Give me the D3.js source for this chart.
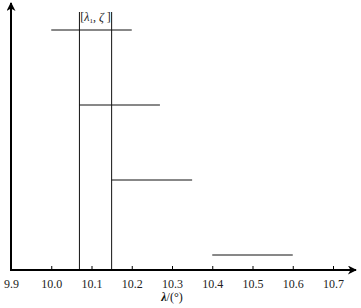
<!DOCTYPE html>
<html>
<head>
<meta charset="utf-8">
<script src="https://cdn.jsdelivr.net/npm/d3@7"></script>
<style>
  body { margin: 0; background: #fff; }
  svg { display: block; font-family: "Liberation Serif", "DejaVu Serif", serif; }
</style>
</head>
<body>
<svg id="chart"></svg>
<script>
const width = 361;
const height = 308;

// intervals drawn as horizontal segments
const starts = [10.0, 10.07, 10.15, 10.4];
const ends = [10.2, 10.27, 10.35, 10.6];
const levels = [3.2, 2.2, 1.2, 0.2];
// boundaries of [lambda1, zeta]
const bounds = [10.07, 10.15];
const tickValues = [9.9, 10.0, 10.1, 10.2, 10.3, 10.4, 10.5, 10.6, 10.7];

const svg = d3.select("#chart").attr("width", width).attr("height", height);

const x = d3.scaleLinear().domain([9.9, 10.7]).range([11, 333]);
const y = d3.scaleLinear().domain([0, 1]).range([270, 195]);

const defs = svg.append("defs");
defs.append("marker")
  .attr("id", "arrow")
  .attr("viewBox", "0 0 10 10")
  .attr("refX", 9).attr("refY", 5)
  .attr("markerWidth", 11).attr("markerHeight", 9)
  .attr("markerUnits", "userSpaceOnUse")
  .attr("orient", "auto")
  .append("path")
  .attr("d", "M0,0 L10,5 L0,10 L3,5 Z")
  .attr("fill", "#000");

// verticals
svg.selectAll(".bound")
  .data(bounds)
  .enter().append("line")
  .attr("class", "bound")
  .attr("x1", d => x(d)).attr("x2", d => x(d))
  .attr("y1", 12).attr("y2", y(0))
  .attr("stroke", "#111").attr("stroke-width", 1);

// interval segments
svg.selectAll(".seg")
  .data(starts.map((s, i) => ({ s, e: ends[i], v: levels[i] })))
  .enter().append("line")
  .attr("class", "seg")
  .attr("x1", d => x(d.s)).attr("x2", d => x(d.e))
  .attr("y1", d => y(d.v)).attr("y2", d => y(d.v))
  .attr("stroke", "#111").attr("stroke-width", 1);

// axes
const xAxis = d3.axisBottom(x)
  .tickValues(tickValues)
  .tickSize(-4)
  .tickPadding(9)
  .tickFormat(d3.format(".1f"));

const gx = svg.append("g").attr("transform", `translate(0,${y(0)})`).call(xAxis);
gx.select(".domain").remove();
gx.selectAll(".tick line").attr("stroke", "#000");
gx.selectAll(".tick text").attr("font-size", 12).attr("fill", "#222")
  .attr("font-family", "Liberation Serif, serif");

svg.append("line")
  .attr("x1", 10).attr("x2", 356)
  .attr("y1", y(0)).attr("y2", y(0))
  .attr("stroke", "#000").attr("stroke-width", 2)
  .attr("marker-end", "url(#arrow)");

svg.append("line")
  .attr("x1", 11).attr("x2", 11)
  .attr("y1", y(0) + 1).attr("y2", 3)
  .attr("stroke", "#000").attr("stroke-width", 2)
  .attr("marker-end", "url(#arrow)");

// label for interval
const lab = svg.append("text")
  .attr("x", (x(bounds[0]) + x(bounds[1])) / 2)
  .attr("y", 21)
  .attr("text-anchor", "middle")
  .attr("font-size", 12)
  .attr("fill", "#222");
lab.append("tspan").text("[");
lab.append("tspan").attr("font-style", "italic").text("λ");
lab.append("tspan").attr("font-size", 7).attr("dy", 2).text("1");
lab.append("tspan").attr("dy", -2).text(", ");
lab.append("tspan").attr("font-style", "italic").text("ζ");
lab.append("tspan").text(" ]");

// x label
const xl = svg.append("text")
  .attr("x", 172).attr("y", 301)
  .attr("text-anchor", "middle")
  .attr("font-size", 12)
  .attr("fill", "#111");
xl.append("tspan").attr("font-weight", "bold").attr("font-style", "italic").text("λ");
xl.append("tspan").text("/(°)");
</script>
</body>
</html>
